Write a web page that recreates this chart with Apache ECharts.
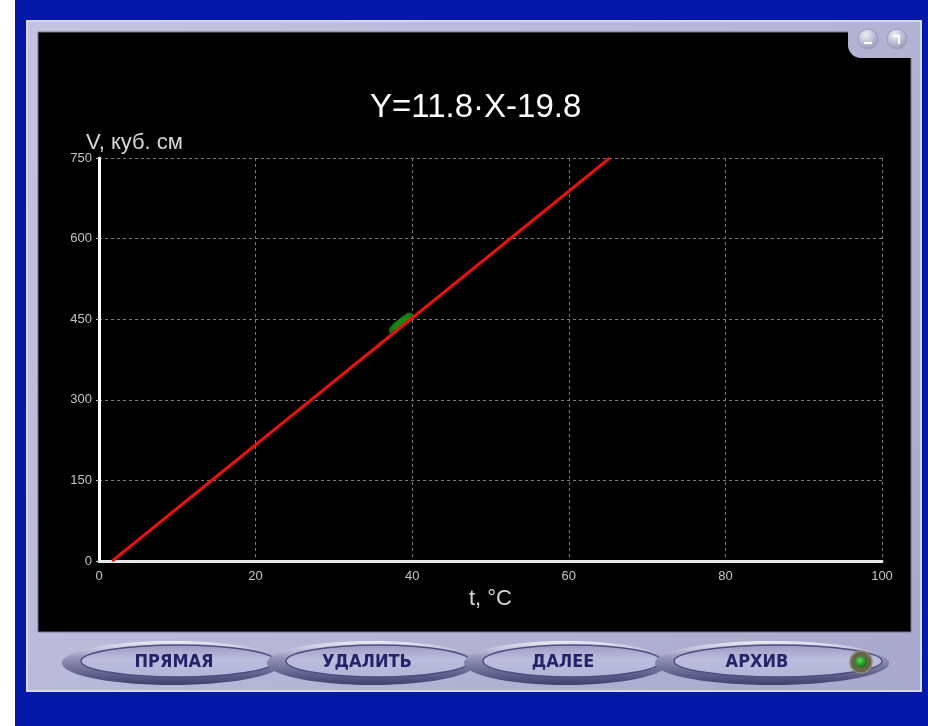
<!DOCTYPE html>
<html>
<head>
<meta charset="utf-8">
<style>
  html, body { margin: 0; padding: 0; background: #ffffff; }
  #chart { width: 928px; height: 726px; }
</style>
<script src="https://cdn.jsdelivr.net/npm/echarts@6/dist/echarts.min.js"></script>
</head>
<body>
<div id="chart"></div>
<script>
// Fitted straight line V = a·t + b, as printed in the heading
const slope = 11.8;
const intercept = -19.8;

// Measured points (t in °C, V in cubic cm)
const measuredT = [37.6, 38.0, 38.4, 38.8, 39.2, 39.6];
const measuredV = [430, 437, 441, 446, 450, 454];

// Axis ranges and ticks
const tTicks = [0, 20, 40, 60, 80, 100];
const vTicks = [0, 150, 300, 450, 600, 750];

// Control panel buttons
const buttonLabels = ['ПРЯМАЯ', 'УДАЛИТЬ', 'ДАЛЕЕ', 'АРХИВ'];

const heading = 'Y=' + slope + '·X' + (intercept < 0 ? '-' + Math.abs(intercept) : '+' + intercept);

// Line drawn across the visible V range from the fitted coefficients
const vMin = vTicks[0], vMax = vTicks[vTicks.length - 1];
const fitLine = [
  [(vMin - intercept) / slope, vMin],
  [(vMax - intercept) / slope, vMax]
];

const FONT = '"Liberation Sans", Arial, sans-serif';
const BTN_FONT = '"Liberation Sans Narrow", "DejaVu Sans Condensed", "Liberation Sans", sans-serif';
const PANEL = '#b2b2d2';

// Frame pieces
const frame = [
  { type: 'rect', z: -20, shape: { x: 0, y: 0, width: 15, height: 726 }, style: { fill: '#ffffff' } },
  { type: 'rect', z: -19, shape: { x: 26, y: 20, width: 896, height: 672 },
    style: { fill: new echarts.graphic.LinearGradient(0, 0, 1, 1, [
      { offset: 0, color: '#c4c4e0' }, { offset: 1, color: '#a8a8cc' }]) } },
  { type: 'rect', z: -18, shape: { x: 27, y: 21, width: 894, height: 670 },
    style: { fill: 'none', stroke: '#d6d6ec', lineWidth: 2 } },
  { type: 'rect', z: -17, shape: { x: 38, y: 32, width: 873, height: 600 },
    style: { fill: '#000000', stroke: '#70708e', lineWidth: 1 } },
  { type: 'rect', z: -16, shape: { x: 848, y: 31, width: 64, height: 27, r: [0, 0, 0, 13] },
    style: { fill: PANEL } }
];

// Two round window buttons in the corner
[868, 897].forEach(function (cx, i) {
  frame.push({ type: 'circle', z: -15, shape: { cx: cx, cy: 39, r: 10 },
    style: { fill: new echarts.graphic.RadialGradient(0.4, 0.3, 0.8, [
      { offset: 0, color: '#eeeef8' }, { offset: 1, color: '#8a8ab0' }]),
      stroke: '#9a9abc', lineWidth: 1 } });
  if (i === 0) {
    frame.push({ type: 'line', z: -14, shape: { x1: cx - 4, y1: 43, x2: cx + 4, y2: 43 },
      style: { stroke: '#ffffff', lineWidth: 2 } });
  } else {
    frame.push({ type: 'polyline', z: -14, shape: { points: [[cx - 4, 36], [cx + 2, 36], [cx + 2, 44]] },
      style: { stroke: '#ffffff', lineWidth: 2, fill: 'none' } });
  }
});

// Oval buttons along the bottom bar
const buttonGeom = [
  { cx: 172, rx: 110 },
  { cx: 372, rx: 105 },
  { cx: 566, rx: 102 },
  { cx: 772, rx: 117 }
];
const buttonTextX = [174, 367, 563, 757];
buttonLabels.forEach(function (label, i) {
  const g = buttonGeom[i];
  frame.push({ type: 'ellipse', z: 1 + i * 3, shape: { cx: g.cx, cy: 663, rx: g.rx, ry: 22 },
    style: { fill: new echarts.graphic.LinearGradient(0, 0, 0, 1, [
      { offset: 0, color: '#ececf8' }, { offset: 0.4, color: '#9090b8' }, { offset: 1, color: '#40406e' }]) } });
  frame.push({ type: 'ellipse', z: 2 + i * 3, shape: { cx: g.cx + 6, cy: 661, rx: g.rx - 13, ry: 16 },
    style: { fill: new echarts.graphic.LinearGradient(0, 0, 0, 1, [
      { offset: 0, color: '#9a9ac2' }, { offset: 0.45, color: '#bcbcdc' }, { offset: 1, color: '#b4b4d8' }]),
      stroke: '#4e4e80', lineWidth: 1.5 } });
  frame.push({ type: 'text', z: 3 + i * 3, x: buttonTextX[i], y: 662,
    style: { text: label, fill: '#24246a', font: 'bold 18px ' + BTN_FONT, align: 'center', verticalAlign: 'middle' } });
});

// Indicator lamp
frame.push({ type: 'circle', z: 20, shape: { cx: 861, cy: 662, r: 11 },
  style: { fill: '#66664a', stroke: '#8c8c72', lineWidth: 1.5 } });
frame.push({ type: 'circle', z: 21, shape: { cx: 861, cy: 662, r: 5.5 },
  style: { fill: new echarts.graphic.RadialGradient(0.4, 0.35, 0.7, [
    { offset: 0, color: '#50e050' }, { offset: 1, color: '#0c6a0c' }]) } });

const chart = echarts.init(document.getElementById('chart'), null, { renderer: 'canvas' });
chart.setOption({
  backgroundColor: '#0618a8',
  animation: false,
  title: [
    { text: heading, left: 365, top: 86,
      textStyle: { color: '#ffffff', fontSize: 33, fontWeight: 'normal', fontFamily: FONT } },
    { text: 'V, куб. см', left: 81, top: 127,
      textStyle: { color: '#d8d8d8', fontSize: 22, fontWeight: 'normal', fontFamily: FONT } }
  ],
  graphic: { elements: frame },
  grid: { left: 99, right: 46, top: 158, bottom: 165, containLabel: false },
  xAxis: {
    type: 'value', min: tTicks[0], max: tTicks[tTicks.length - 1], interval: tTicks[1] - tTicks[0],
    name: 't, °C', nameLocation: 'middle', nameGap: 24,
    nameTextStyle: { color: '#d8d8d8', fontSize: 22, fontFamily: FONT },
    axisLine: { show: true, onZero: false, lineStyle: { color: '#e8e8e8', width: 3, type: [3, 1] } },
    axisTick: { show: false },
    axisLabel: { color: '#c4c4c4', fontSize: 13, fontFamily: FONT, margin: 9 },
    splitLine: { show: true, lineStyle: { color: '#7c7c7c', width: 1, type: [3, 3] } }
  },
  yAxis: {
    type: 'value', min: vMin, max: vMax, interval: vTicks[1] - vTicks[0],
    axisLine: { show: true, onZero: false, lineStyle: { color: '#ffffff', width: 3 } },
    axisTick: { show: true, length: 3, lineStyle: { color: '#c4c4c4', width: 1 } },
    axisLabel: { color: '#c4c4c4', fontSize: 13, fontFamily: FONT, margin: 7 },
    splitLine: { show: true, lineStyle: { color: '#7c7c7c', width: 1, type: [3, 3] } }
  },
  series: [
    {
      type: 'scatter', z: 2,
      data: measuredT.map(function (t, i) { return [t, measuredV[i]]; }),
      symbol: 'circle', symbolSize: 9,
      itemStyle: { color: '#168c16' }
    },
    {
      type: 'line', z: 3,
      data: fitLine,
      showSymbol: false, symbol: 'none',
      lineStyle: { color: '#e81010', width: 3 }
    }
  ]
});
</script>
</body>
</html>
